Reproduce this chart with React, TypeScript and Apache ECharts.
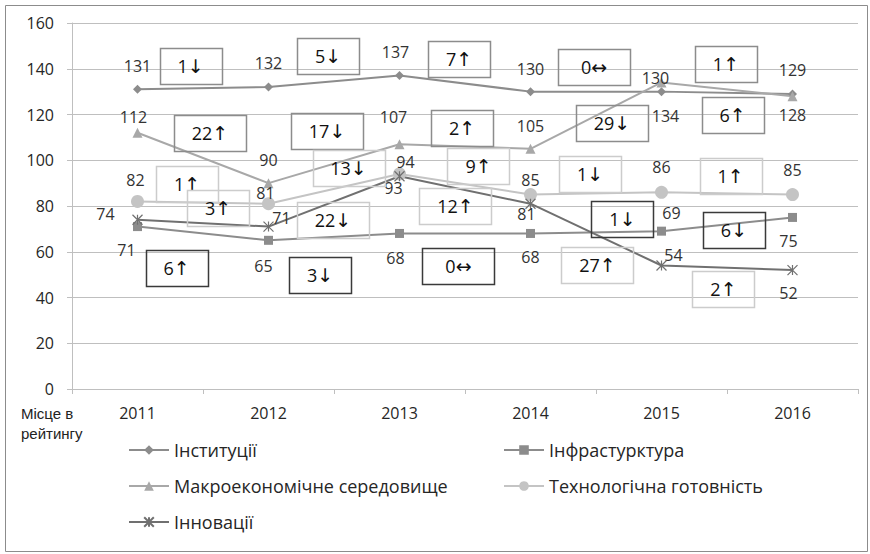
import React, { useEffect, useRef } from "react";
import * as echarts from "echarts";

// ---- data ----
const years = ["2011", "2012", "2013", "2014", "2015", "2016"];
const institutions = [131, 132, 137, 130, 130, 129];
const infrastructure = [71, 65, 68, 68, 69, 75];
const macroeconomy = [112, 90, 107, 105, 134, 128];
const technology = [82, 81, 94, 85, 86, 85];
const innovation = [74, 71, 93, 81, 54, 52];

const seriesNames = [
  "Інституції",
  "Інфрастурктура",
  "Макроекономічне середовище",
  "Технологічна готовність",
  "Інновації",
];

// ---- styling: label offsets (dx, dy) from the point ----
const instLabelOff = [[0, -23], [0, -24], [-4, -24], [0, -23], [-6, -14], [0, -24]];
const macroLabelOff = [[-4, -16], [0, -23], [-6, -27], [0, -23], [4, 34], [0, 19]];
const infraLabelOff = [[-11, 23], [-5, 26], [-4, 25], [0, 24], [10, -18], [-4, 24]];
const techLabelOff = [[-2, -21], [-3, -11], [6, -12], [0, -15], [0, -25], [0, -25]];
const innovLabelOff = [[-32, -6], [13, -9], [-6, 12], [-4, 10], [12, -10], [-4, 23]];

// ---- styling: change-box placement [category position, value-axis position] ----
const instBoxPos = [[0.405, 141.2], [1.454, 145.6], [2.454, 144.3], [3.485, 140.8], [4.492, 141.9]];
const macroBoxPos = [[0.553, 111.7], [1.447, 112.8], [2.477, 114.3], [3.622, 116.3], [4.542, 119.6]];
const techBoxPos = [[0.378, 89.6], [1.611, 96.4], [2.603, 97.3], [3.454, 93.8], [4.527, 92.9]];
const innovBoxPos = [[0.615, 79.3], [1.492, 73.7], [2.427, 79.8], [3.511, 54.2], [4.473, 43.5]];
const infraBoxPos = [[0.298, 52.7], [1.393, 49.8], [2.45, 53.6], [3.702, 74.5], [4.553, 69.5]];

const FONT = "Open Sans";

function changeParts(vals: number[], seg: number): [string, string] {
  const d = vals[seg + 1] - vals[seg];
  if (d > 0) return [`${d}`, "↓"];
  if (d < 0) return [`${-d}`, "↑"];
  return ["0", "↔"];
}

function lineSeries(name: string, vals: number[], offs: number[][], color: string, symbol: string, symbolSize: number, extraItem: any = {}) {
  return {
    type: "line",
    name,
    data: vals.map((v, i) => ({
      value: v,
      label: { offset: offs[i] },
    })),
    symbol,
    symbolSize,
    showAllSymbol: true,
    lineStyle: { color, width: 2 },
    itemStyle: { color, ...extraItem },
    label: {
      show: true,
      position: "inside",
      color: "#333",
      fontSize: 16,
      fontFamily: FONT,
      textBorderWidth: 0,
    },
    z: 3,
  };
}

function boxSeries(id: string, vals: number[], pos: number[][], stroke: string) {
  return {
    type: "custom",
    name: id,
    silent: true,
    z: 4,
    encode: { x: 0, y: 1 },
    data: pos.map((p, k) => [k, p[1], p[0]]),
    renderItem: (params: any, api: any) => {
      const seg = api.value(0);
      const yv = api.value(1);
      const xp = api.value(2);
      const p0 = api.coord([seg, yv]);
      const p1 = api.coord([seg + 1, yv]);
      const cx = p0[0] + (xp - seg) * (p1[0] - p0[0]);
      const cy = p0[1];
      const [num, arrow] = changeParts(vals, seg);
      const w = arrow === "↔" ? 72 : num.length >= 2 ? 72 : 62;
      const h = 36;
      return {
        type: "group",
        children: [
          {
            type: "rect",
            shape: { x: Math.round(cx - w / 2) + 0.5, y: Math.round(cy - h / 2) + 0.5, width: w, height: h },
            style: { fill: "none", stroke, lineWidth: 1.5 },
          },
          {
            type: "text",
            x: cx,
            y: cy,
            style: {
              text: `{n|${num}}{a|${arrow}}`,
              align: "center",
              verticalAlign: "middle",
              rich: {
                n: { fontSize: 18, fontFamily: FONT, fill: "#111", color: "#111" },
                a: { fontSize: 19, fontFamily: "DejaVu Sans", fill: "#111", color: "#111" },
              },
            },
          },
        ],
      };
    },
  };
}

export default function App() {
  const ref = useRef<HTMLDivElement>(null);
  useEffect(() => {
    if (!ref.current) return;
    const chart = echarts.init(ref.current, undefined, { renderer: "svg" });
    const legendText = { fontSize: 18, fontFamily: FONT, color: "#262626", lineHeight: 20 };
    chart.setOption({
      animation: false,
      backgroundColor: "#fff",
      grid: { left: 72, right: 12, top: 23, bottom: 165, containLabel: false },
      xAxis: {
        type: "category",
        data: years,
        boundaryGap: true,
        axisLine: { show: true, lineStyle: { color: "#bfbfbf", width: 1 } },
        axisTick: { show: true, alignWithLabel: false, length: 5, lineStyle: { color: "#bfbfbf" } },
        axisLabel: { margin: 16, fontSize: 16, fontFamily: FONT, color: "#262626" },
        splitLine: { show: false },
      },
      yAxis: {
        type: "value",
        min: 0,
        max: 160,
        interval: 20,
        axisLine: { show: true, lineStyle: { color: "#bfbfbf", width: 1 } },
        axisTick: { show: true, length: 5, lineStyle: { color: "#bfbfbf" } },
        axisLabel: { margin: 18, fontSize: 16, fontFamily: FONT, color: "#262626" },
        splitLine: { show: true, lineStyle: { color: "#bfbfbf", width: 1 } },
      },
      legend: [
        {
          data: [seriesNames[0], seriesNames[2], seriesNames[4]],
          orient: "vertical",
          left: 123,
          top: 435,
          itemWidth: 40,
          itemHeight: 12,
          itemGap: 16,
          selectedMode: false,
          textStyle: legendText,
        },
        {
          data: [seriesNames[1], seriesNames[3]],
          orient: "vertical",
          left: 498,
          top: 435,
          itemWidth: 40,
          itemHeight: 12,
          itemGap: 16,
          selectedMode: false,
          textStyle: legendText,
        },
      ],
      graphic: [
        {
          type: "rect",
          shape: { x: 5.5, y: 5.5, width: 862, height: 546 },
          style: { fill: "none", stroke: "#8c8c8c", lineWidth: 1 },
          silent: true,
        },
        {
          type: "text",
          left: 21,
          top: 403,
          style: {
            text: "Місце в\nрейтингу",
            fill: "#222",
            fontSize: 15,
            lineHeight: 20,
            fontFamily: "Liberation Sans",
          },
        },
      ],
      series: [
        lineSeries(seriesNames[0], institutions, instLabelOff, "#8c8c8c", "diamond", 9),
        lineSeries(seriesNames[1], infrastructure, infraLabelOff, "#8c8c8c", "rect", 9),
        lineSeries(seriesNames[2], macroeconomy, macroLabelOff, "#a8a8a8", "triangle", 10),
        lineSeries(seriesNames[3], technology, techLabelOff, "#c4c4c4", "circle", 13),
        lineSeries(seriesNames[4], innovation, innovLabelOff, "#707070", "path://M0,0L10,10M10,0L0,10M5,0L5,10", 10, {
          borderColor: "#707070",
          borderWidth: 1.2,
        }),
        boxSeries("box-inst", institutions, instBoxPos, "#8c8c8c"),
        boxSeries("box-macro", macroeconomy, macroBoxPos, "#8c8c8c"),
        boxSeries("box-tech", technology, techBoxPos, "#cccccc"),
        boxSeries("box-innov", innovation, innovBoxPos, "#cccccc"),
        boxSeries("box-infra", infrastructure, infraBoxPos, "#3a3a3a"),
      ],
    });
    return () => chart.dispose();
  }, []);
  return <div ref={ref} style={{ position: "absolute", left: 0, top: 0, width: 870, height: 554 }} />;
}
